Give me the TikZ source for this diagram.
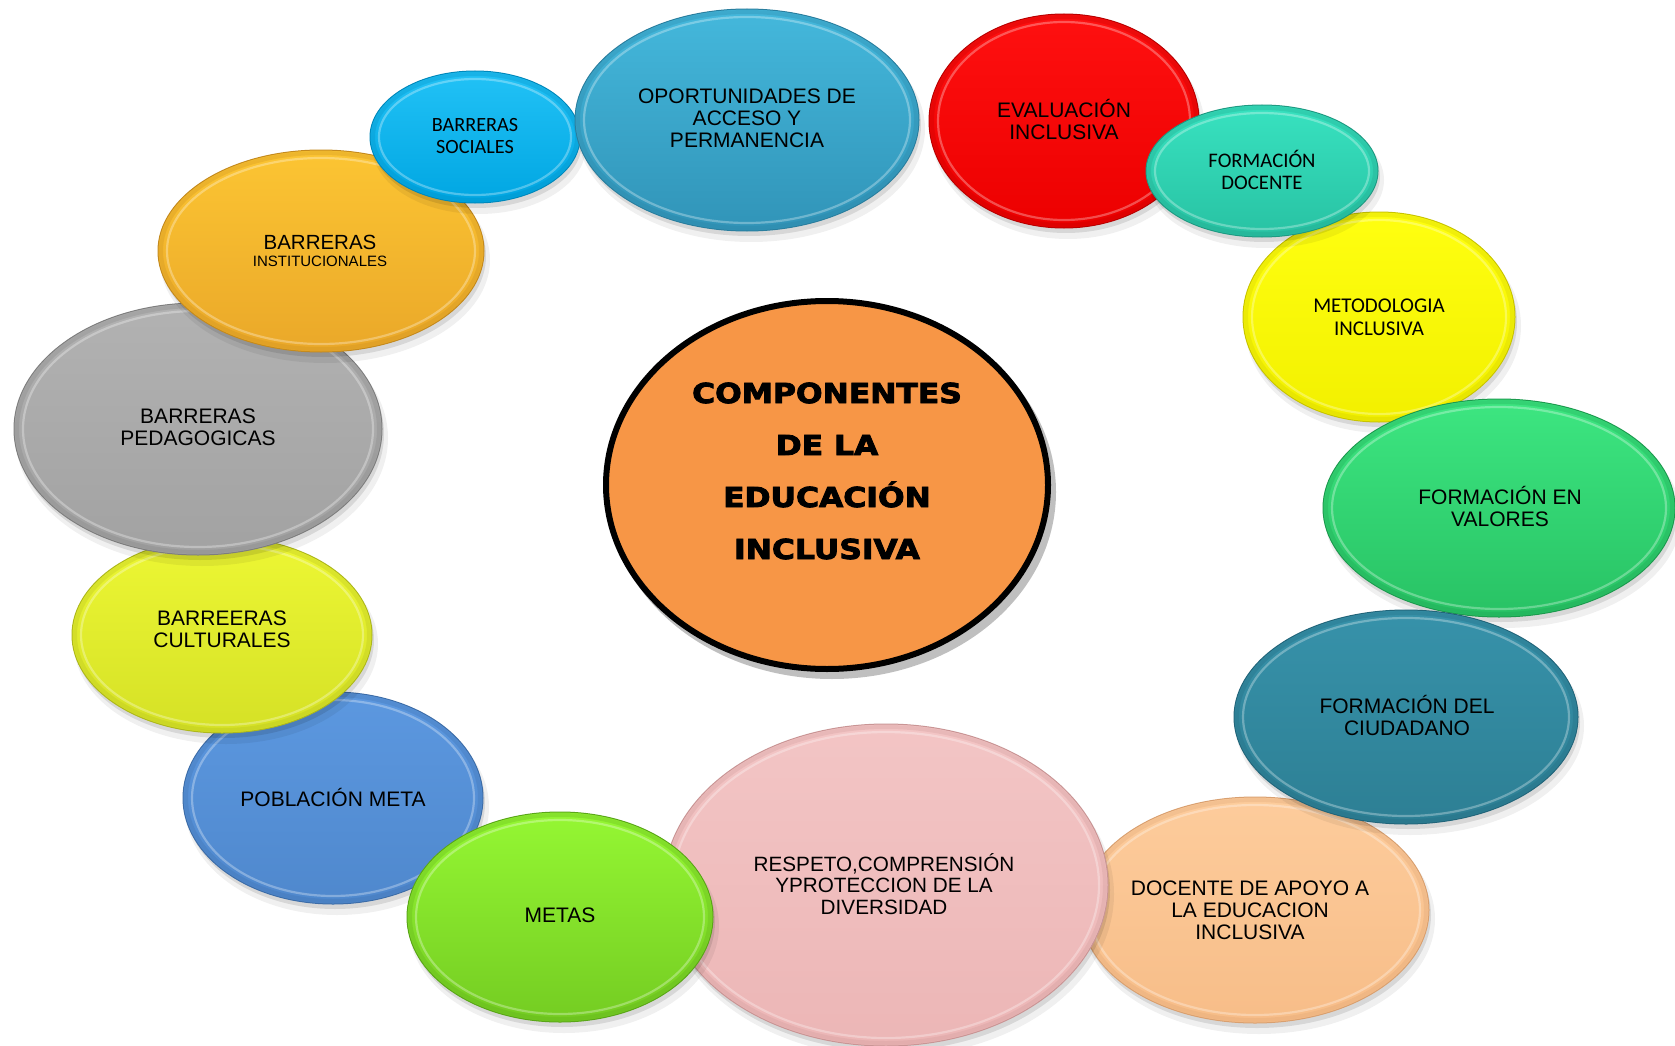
\documentclass[tikz,border=0pt]{standalone}
\usepackage{fontspec}
\setmainfont{Liberation Sans}
\newfontfamily\carl{Carlito}
\newfontfamily\heavyfont[FakeBold=3]{DejaVu Sans Bold}
\usepackage{graphicx}
\usetikzlibrary{shapes.geometric}

\definecolor{socT}{HTML}{22C2F6}\definecolor{socB}{HTML}{00A6E2}\definecolor{socE}{HTML}{0088BB}
\definecolor{opoT}{HTML}{44B8DC}\definecolor{opoB}{HTML}{3194B8}\definecolor{opoE}{HTML}{2A7E9E}
\definecolor{evaT}{HTML}{FF1010}\definecolor{evaB}{HTML}{EC0000}\definecolor{evaE}{HTML}{B80000}
\definecolor{fdoT}{HTML}{38E2C0}\definecolor{fdoB}{HTML}{28C2A3}\definecolor{fdoE}{HTML}{1E9A82}
\definecolor{metT}{HTML}{FFFF10}\definecolor{metB}{HTML}{F2F000}\definecolor{metE}{HTML}{C8C400}
\definecolor{valT}{HTML}{3DE681}\definecolor{valB}{HTML}{28C264}\definecolor{valE}{HTML}{1C9A4E}
\definecolor{ciuT}{HTML}{3792AA}\definecolor{ciuB}{HTML}{2D7F94}\definecolor{ciuE}{HTML}{22657A}
\definecolor{apoT}{HTML}{FDCC9C}\definecolor{apoB}{HTML}{F7BD88}\definecolor{apoE}{HTML}{D9A070}
\definecolor{resT}{HTML}{F3C5C5}\definecolor{resB}{HTML}{ECB6B6}\definecolor{resE}{HTML}{C99595}
\definecolor{mtsT}{HTML}{95F733}\definecolor{mtsB}{HTML}{74CC22}\definecolor{mtsE}{HTML}{5AA618}
\definecolor{pobT}{HTML}{5C98E0}\definecolor{pobB}{HTML}{4F88CD}\definecolor{pobE}{HTML}{3D6DA8}
\definecolor{culT}{HTML}{EDF734}\definecolor{culB}{HTML}{D5E126}\definecolor{culE}{HTML}{AEB81C}
\definecolor{pedT}{HTML}{B2B2B2}\definecolor{pedB}{HTML}{A2A2A2}\definecolor{pedE}{HTML}{7E7E7E}
\definecolor{insT}{HTML}{FCC533}\definecolor{insB}{HTML}{EAA829}\definecolor{insE}{HTML}{C48A1E}
\definecolor{centro}{HTML}{F79646}

\tikzset{
  bubble/.style={ellipse, inner sep=0pt, line width=1pt},
  lbl/.style={align=center, inner sep=0pt, text=black, font=\fontsize{21}{22}\selectfont},
  lblc/.style={align=center, inner sep=0pt, text=black, font=\carl\fontsize{20.2}{22}\selectfont},
}

% name, x, y, rx, ry, top colour, bottom colour, edge colour
\newcommand{\bub}[8]{%
  \fill[black,opacity=0.06] (#2+4,#3+9) ellipse [x radius=#4+2, y radius=#5+2];
  \fill[black,opacity=0.10] (#2+2,#3+5) ellipse [x radius=#4, y radius=#5];
  \node[bubble, minimum width={2*#4 pt}, minimum height={2*#5 pt},
        top color=#6, bottom color=#7, draw=#8] (#1) at (#2,#3) {};
  \draw[#8, opacity=0.25, line width=4pt] (#1.center) ellipse [x radius=#4-3, y radius=#5-3];
  \draw[white, opacity=0.30, line width=2.2pt] (#1.center) ellipse [x radius=#4-9, y radius=#5-8];
}

\begin{document}
\begin{tikzpicture}[x=1pt, y=-1pt]
\fill[white] (0,0) rectangle (1675,1046);
\useasboundingbox (0,0) rectangle (1675,1046);

\bub{apoyo}{1255}{910}{174}{113}{apoT}{apoB}{apoE}
\bub{respeto}{886}{885}{222}{161}{resT}{resB}{resE}
\bub{poblacion}{333}{798}{150}{106}{pobT}{pobB}{pobE}
\bub{metas}{560}{917}{153}{105}{mtsT}{mtsB}{mtsE}
\bub{culturales}{222}{635}{150}{98}{culT}{culB}{culE}
\bub{pedagogicas}{198}{429}{184}{126}{pedT}{pedB}{pedE}
\bub{institucionales}{321}{251}{163}{101}{insT}{insB}{insE}
\bub{sociales}{475}{137}{105}{66}{socT}{socB}{socE}
\bub{oportunidades}{747}{120}{172}{111}{opoT}{opoB}{opoE}
\bub{evaluacion}{1064}{121}{135}{107}{evaT}{evaB}{evaE}
\bub{metodologia}{1379}{317}{136}{105}{metT}{metB}{metE}
\bub{fdocente}{1262}{171}{116}{66}{fdoT}{fdoB}{fdoE}
\bub{valores}{1499}{508}{176}{109}{valT}{valB}{valE}
\bub{ciudadano}{1406}{717}{172}{107}{ciuT}{ciuB}{ciuE}

% centre
\fill[black,opacity=0.25] (832,492) ellipse [x radius=224, y radius=187];
\node[ellipse, inner sep=0pt, fill=centro, draw=black, line width=6pt,
      minimum width=442pt, minimum height=368pt] (centro) at (827,485) {};
\node[align=center, inner sep=0pt, text=black,
      font=\heavyfont\fontsize{27.5}{52}\selectfont] (titulo) at (827,471)
  {\scalebox{1.14}[1]{COMPONENTES}\\\scalebox{1.14}[1]{DE LA}\\\scalebox{1.14}[1]{EDUCACIÓN}\\\scalebox{1.14}[1]{INCLUSIVA}};

% labels
\node[lblc] (t-sociales) at (475,136) {BARRERAS\\SOCIALES};
\node[lbl] (t-oportunidades) at (747,118) {OPORTUNIDADES DE\\ACCESO Y\\PERMANENCIA};
\node[lbl] (t-evaluacion) at (1064,119) {EVALUACIÓN\\INCLUSIVA};
\node[lblc, font=\carl\fontsize{20.7}{22.3}\selectfont] (t-fdocente) at (1262,170) {FORMACIÓN\\DOCENTE};
\node[lblc, font=\carl\fontsize{21}{22.7}\selectfont] (t-metodologia) at (1379,317) {METODOLOGIA\\INCLUSIVA};
\node[lbl] (t-valores) at (1500,506) {FORMACIÓN EN\\VALORES};
\node[lbl] (t-ciudadano) at (1407,715) {FORMACIÓN DEL\\CIUDADANO};
\node[lbl] (t-apoyo) at (1250,910) {DOCENTE DE APOYO A\\LA EDUCACION\\INCLUSIVA};
\node[lbl, font=\fontsize{20.7}{21.7}\selectfont] (t-respeto) at (884,884) {RESPETO,COMPRENSIÓN\\YPROTECCION DE LA\\DIVERSIDAD};
\node[lbl] (t-metas) at (560,915) {METAS};
\node[lbl] (t-poblacion) at (333,797) {POBLACIÓN META};
\node[lbl] (t-culturales) at (222,629) {BARREERAS\\CULTURALES};
\node[lbl] (t-pedagogicas) at (198,427) {BARRERAS\\PEDAGOGICAS};
\node[lbl, font=\fontsize{15}{16.7}\selectfont] (t-institucionales) at (320,251)
  {{\fontsize{20.5}{16.7}\selectfont BARRERAS}\\INSTITUCIONALES};
\end{tikzpicture}
\end{document}
